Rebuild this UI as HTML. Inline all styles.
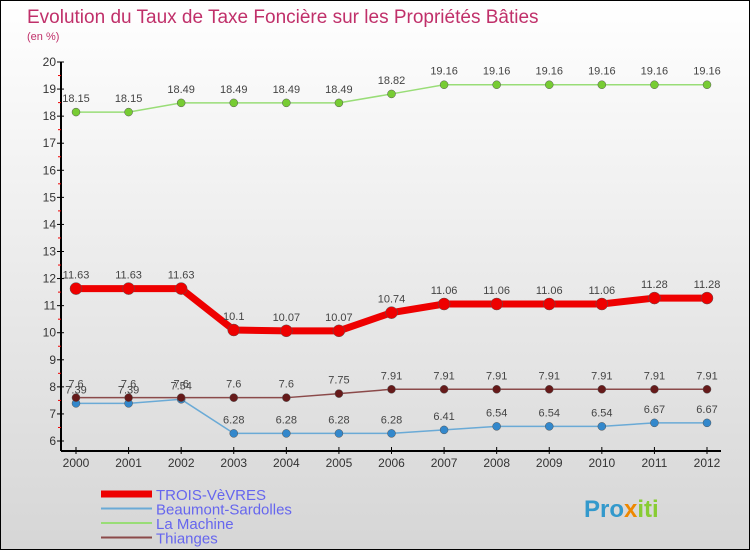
<!DOCTYPE html>
<html><head><meta charset="utf-8"><style>
body{margin:0;}
#c{width:750px;height:550px;position:relative;box-sizing:border-box;border:1px solid #000;background:linear-gradient(#fff,#d6d6d6);font-family:"Liberation Sans",sans-serif;overflow:hidden}
svg text{font-family:"Liberation Sans",sans-serif}
</style></head><body>
<div id="c">
<svg id="s" width="750" height="550">
<text x="26" y="22" font-size="19" fill="#c0306a">Evolution du Taux de Taxe Foncière sur les Propriétés Bâties</text>
<text x="26" y="39" font-size="11" fill="#c0306a">(en %)</text>
</svg>
</div>
<script>
const years=[2000,2001,2002,2003,2004,2005,2006,2007,2008,2009,2010,2011,2012];
const trois=[11.63,11.63,11.63,10.1,10.07,10.07,10.74,11.06,11.06,11.06,11.06,11.28,11.28];
const beaumont=[7.39,7.39,7.54,6.28,6.28,6.28,6.28,6.41,6.54,6.54,6.54,6.67,6.67];
const machine=[18.15,18.15,18.49,18.49,18.49,18.49,18.82,19.16,19.16,19.16,19.16,19.16,19.16];
const thianges=[7.6,7.6,7.6,7.6,7.6,7.75,7.91,7.91,7.91,7.91,7.91,7.91,7.91];
const yTicks=[6,7,8,9,10,11,12,13,14,15,16,17,18,19,20];
const seriesNames=["TROIS-VèVRES","Beaumont-Sardolles","La Machine","Thianges"];
const ns="http://www.w3.org/2000/svg",s=document.getElementById('s');
const X=i=>75+i*(706-75)/(years.length-1);
const Y=v=>440-(v-6)*(440-61)/14;
function el(t,a,p){const e=document.createElementNS(ns,t);for(const k in a)e.setAttribute(k,a[k]);(p||s).appendChild(e);return e;}
let ax=el('path',{d:'M60,61V450M60,450H720',stroke:'#000','stroke-width':2,fill:'none'});


yTicks.forEach(v=>{
 el('line',{x1:56,x2:63,y1:Y(v),y2:Y(v),stroke:'#000'});
 if(v<20)el('line',{x1:57,x2:60,y1:Y(v+0.5),y2:Y(v+0.5),stroke:'#e00'});
 let t=el('text',{x:55,y:Y(v)+4,'font-size':12,fill:'#333','text-anchor':'end'});t.textContent=v;
 
 
});
years.forEach((y,i)=>{
 el('line',{x1:X(i),x2:X(i),y1:446,y2:453,stroke:'#000'});
 let t=el('text',{x:X(i),y:466,'font-size':12,fill:'#333','text-anchor':'middle'});t.textContent=y;
 
 
});
function series(data,color,w,r,dot,name){
 const g=el('g',{});
 
 
 el('polyline',{points:data.map((v,i)=>X(i)+','+Y(v)).join(' '),fill:'none',stroke:color,'stroke-width':w},g);
 data.forEach((v,i)=>{
  el('circle',{cx:X(i),cy:Y(v),r:r,fill:dot,stroke:'#555','stroke-width':0.5},g);
  let t=el('text',{x:X(i),y:Y(v)-10,'font-size':11,fill:'#444','text-anchor':'middle'},g);t.textContent=v;
 });
}
series(machine,'#99dd77',1.5,4,'#77cc33','series-la-machine');
series(beaumont,'#6aaad6',1.5,4,'#3388cc','series-beaumont-sardolles');
series(thianges,'#8b4a4a',1.5,4,'#661a1a','series-thianges');
series(trois,'#ee0000',7,6,'#ee0000','series-trois-vevres');
const lc=[['#ee0000',7],['#6aaad6',2],['#99dd77',2],['#8b4a4a',2]];
seriesNames.forEach((n,i)=>{
 const y=493+i*14.5;
 const g=el('g',{});
 
 
 el('line',{x1:100,x2:151,y1:y,y2:y,stroke:lc[i][0],'stroke-width':lc[i][1]},g);
 let t=el('text',{x:155,y:y+6,'font-size':15,fill:'#6666ee'},g);t.textContent=n;
});
let lg=el('text',{x:583,y:516,'font-size':24,'font-weight':'bold',fill:'#3399cc'});
lg.innerHTML='Pro<tspan fill="#ee8800">x</tspan><tspan fill="#88cc33">iti</tspan>';


</script>
</body></html>
